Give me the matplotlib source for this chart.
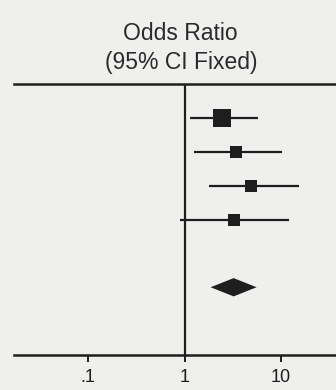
import numpy as np
import matplotlib
matplotlib.use("Agg")
import matplotlib.pyplot as plt

# study estimates (odds ratio, 95% CI)
odds_ratio = [2.42, 3.38, 4.83, 3.22]
ci_lower = [1.13, 1.24, 1.77, 0.89]
ci_upper = [5.71, 10.1, 15.2, 11.97]
weights = [45.0, 18.0, 20.0, 17.0]

# pooled (fixed) estimate
pooled = 3.22
pooled_lower = 1.86
pooled_upper = 5.57

tick_values = [0.1, 1, 10]
tick_labels = [".1", "1", "10"]

bg = "#efefed"
ink = "#1e1e1e"

fig = plt.figure(figsize=(3.36, 3.90), dpi=100, facecolor=bg)
ax = fig.add_axes([14 / 336, 1 - 355 / 390, 1 - 14 / 336, (355 - 84) / 390])
ax.set_facecolor(bg)
ax.set_xscale("log")
ax.set_xlim(0.0171, 37)
ax.set_ylim(8, 0)

rows = np.arange(1, len(odds_ratio) + 1)
for y, est, lo, hi, w in zip(rows, odds_ratio, ci_lower, ci_upper, weights):
    ax.plot([lo, hi], [y, y], color=ink, lw=1.6, solid_capstyle="butt")
    side_px = 2.83 * np.sqrt(w)
    ax.plot(est, y, marker="s", color=ink, markersize=side_px * 0.72, mec=ink, mew=0)

# pooled diamond
dy = 0.27
ax.fill([pooled_lower, pooled, pooled_upper, pooled], [6, 6 - dy, 6, 6 + dy],
        color=ink, lw=0)

ax.axvline(1, color=ink, lw=1.6)

for side in ["left", "right"]:
    ax.spines[side].set_visible(False)
for side in ["top", "bottom"]:
    ax.spines[side].set_color(ink)
    ax.spines[side].set_linewidth(1.8)

ax.set_yticks([])
ax.set_xticks(tick_values)
ax.set_xticklabels(tick_labels, fontsize=13, family="Liberation Sans", color=ink)
ax.minorticks_off()
ax.tick_params(axis="x", direction="out", length=5, width=1.4, color=ink, pad=5)

fig.text(0.536, 1 - 33 / 390, "Odds Ratio", ha="center", va="center",
         fontsize=16.5, family="Liberation Sans", color="#2a2a2a")
fig.text(0.538, 1 - 63 / 390, "(95% CI Fixed)", ha="center", va="center",
         fontsize=16.5, family="Liberation Sans", color="#2a2a2a")

fig.savefig("out.png", dpi=100, facecolor=bg)
